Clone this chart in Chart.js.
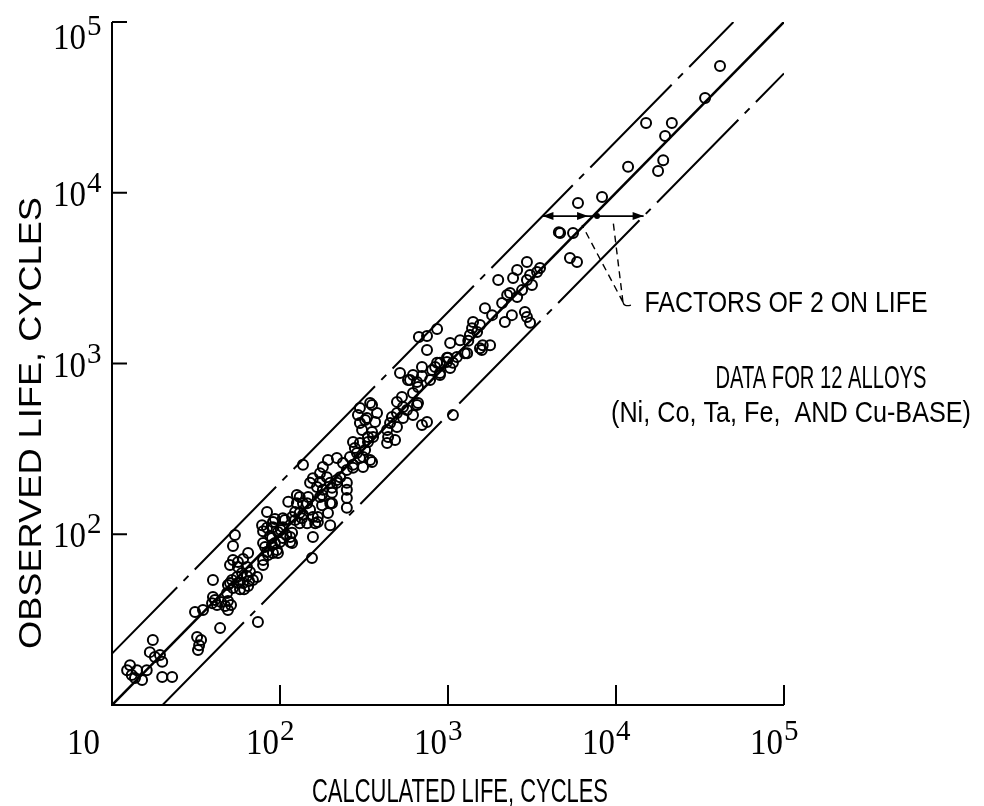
<!DOCTYPE html>
<html>
<head>
<meta charset="utf-8">
<script src="https://cdn.jsdelivr.net/npm/chart.js@4.4.1/dist/chart.umd.min.js"></script>
<style>
  html, body { margin: 0; padding: 0; background: #fff; }
  #c { display: block; }
</style>
</head>
<body>
<canvas id="c" width="984" height="806" style="width:984px;height:806px"></canvas>
<script>
// calculated life vs observed life, cycles
const lifePairs = [
  // lowest group
  [12.8,17.1],[12.3,16.0],[13.1,15.0],[14.1,16.0],[15.1,14.0],[16.1,16.0],[17.5,24.0],[16.8,20.4],
  [18.0,19.1],[19.3,19.6],[19.9,17.9],[19.9,14.6],[22.8,14.6],[13.7,14.4],[32.1,25.0],[33.0,22.4],
  [33.9,24.0],[32.5,21.0],[31.2,35.1],
  // 30 - 80 cycles
  [34.8,36.0],[39.4,39.5],[41.0,41.2],[42.2,38.5],[44.5,40.1],[47.1,38.0],[49.0,40.6],[49.0,36.0],
  [51.1,38.5],[39.9,42.9],[39.9,54.0],[49.0,50.5],[48.4,45.3],[52.5,48.4],[51.8,54.0],[55.5,56.2],
  [50.4,51.8],[56.2,51.8],[57.8,47.7],[60.3,51.8],[61.1,47.7],[64.6,49.8],[65.4,53.2],[63.6,56.9],
  [66.3,60.1],[69.0,54.0],[73.0,56.2],[59.4,59.3],[63.6,64.3],[56.2,64.3],[50.4,66.1],[52.5,70.6],
  [56.2,68.7],[60.3,71.6],[64.6,77.7],[52.5,85.3],[53.9,99],[44.0,28.2],[73.9,30.6],
  // 80 - 200 cycles
  [78.2,113],[79.3,104],[83.7,109],[83.7,135],[81.5,84.1],[79.3,88.9],[79.3,70.6],[79.3,66.1],
  [83.7,78.7],[84.9,75.5],[87.2,97.8],[89.6,86.5],[89.6,95.1],[90.8,118],[90.8,110],[90.8,77.7],
  [93.3,123],[93.3,88.9],[95.9,80.9],[97.2,103],[97.2,77.7],[100,90.2],[101,106],[104,95.1],
  [104,110],[107,121],[109,99.1],[115,96.4],[115,90.2],[118,102],[118,88.9],[123,121],[123,135],
  [112,155],[126,170],[126,152],[131,165],[131,133],[131,116],[137,152],[137,130],[145,152],
  [145,116],[147,165],[151,139],[151,200],[157,96.4],[157,126],[157,213],[162,116],[166,189],
  [168,118],[168,126],[173,228],[173,202],[173,165],[178,170],[178,148],[180,182],[180,248],
  [190,216],[193,133],[193,272],[199,152],[199,113],[199,200],[204,175],[204,152],[137,255],
  [155,72.6],[118,126],[104,124],[135,124],
  // 200 - 400 cycles
  [218,280],[218,208],[218,200],[228,216],[237,261],[250,238],[250,200],[250,182],[250,163],
  [250,143],[261,283],[272,347],[272,255],[272,245],[279,320],[287,299],[291,499],[299,548],
  [299,448],[299,342],[299,280],[308,408],[312,283],[312,248],[321,467],[321,311],[329,480],
  [334,371],[334,347],[344,587],[344,272],[353,571],[353,397],[353,265],[358,371],[368,454],
  [378,513],[204,187],
  // 400 - 2000 cycles
  [434,408],[434,342],[440,371],[452,448],[464,486],[484,356],[497,596],[497,513],[497,425],
  [518,879],[532,637],[540,556],[540,480],[570,534],[578,800],[594,800],[619,857],[619,671],
  [619,499],[654,779],[654,571],[663,728],[663,587],[700,955],[700,845],[700,437],[750,454],
  [750,1200],[671,1430],[750,1450],[861,1590],[782,800],[804,916],[838,955],[861,1010],
  [896,1010],[896,857],[986,1020],[986,1080],[1030,1320],[1070,1010],[1070,499],[1130,1090],
  [1180,1370],[1300,1150],[1320,1360],[1350,1470],[1410,1750],[1490,1530],[1550,1230],
  [896,879],[1030,942],[1000,1080],[1260,1150],[1390,1610],[1550,1680],[1610,1280],
  [1780,1280],[1590,1200],
  // 2000 - 10000 cycles
  [1660,2110],[1830,1920],[1990,3080],[2100,2260],[2180,1750],[2250,2520],[2340,2590],
  [2400,1920],[2440,3170],[2580,3530],[2580,2450],[2760,2690],[2870,2000],[2950,3930],
  [2950,3080],[2950,1870],[3080,3300],[3080,1730],[3160,2880],[3390,3430],[3530,3630],
  [4650,5810],[4570,5880],[5550,5810],[5320,4150],[5860,3930],[5940,8710],[8260,9440],
  // above 10000 cycles
  [11800,14200],[15100,25600],[17800,13400],[19100,15500],[19600,21500],[21500,25600],
  [33900,35900],[41600,55200]
];
const calculatedLife = lifePairs.map(p => p[0]);
const observedLife = lifePairs.map(p => p[1]);

// reference lines: exact agreement and factors of 2
const equalX = [10, 100000];
const equalY = [10, 100000];
const upperX = [10, 50000];
const upperY = [20, 100000];
const lowerX = [20, 100000];
const lowerY = [10, 50000];

// "factors of 2" arrows and leaders
const arrowLevel = 7300;
const arrowX = [3650, 7300, 14600];
const leaderFrom = [11000, 2290];
const leaderTo = [[6280, 6470], [9590, 6920]];

const tickValues = [10, 100, 1000, 10000, 100000];

const SANS = '"Liberation Sans", Arial, sans-serif';
const SERIF = '"Liberation Serif", "Times New Roman", serif';
const DASH = [116, 9, 7, 9];

function fitText(ctx, text, cx, cy, w, size, rot) {
  ctx.save();
  ctx.translate(cx, cy);
  if (rot) ctx.rotate(rot);
  ctx.font = size + 'px ' + SANS;
  const nat = ctx.measureText(text).width;
  ctx.scale(w / nat, 1);
  ctx.textAlign = 'center';
  ctx.textBaseline = 'alphabetic';
  ctx.fillText(text, 0, size * 0.36);
  ctx.restore();
}

function power(ctx, exp, baseRight, baseline) {
  ctx.save();
  ctx.font = '35px ' + SERIF;
  ctx.textBaseline = 'alphabetic';
  ctx.textAlign = 'left';
  const w = ctx.measureText('10').width;
  ctx.save();
  ctx.translate(baseRight - 33, baseline);
  ctx.scale(33 / w, 1);
  ctx.fillText('10', 0, 0);
  ctx.restore();
  if (exp) {
    ctx.font = '29px ' + SERIF;
    ctx.fillText(exp, baseRight + 1, baseline - 14);
  }
  ctx.restore();
}

function arrowHead(ctx, x, y, dir) {
  ctx.beginPath();
  ctx.moveTo(x, y);
  ctx.lineTo(x - dir * 11, y - 4);
  ctx.lineTo(x - dir * 11, y + 4);
  ctx.closePath();
  ctx.fill();
}

const decor = {
  id: 'decor',
  afterDatasetsDraw(chart) {
    const { ctx, chartArea: a, scales: { x, y } } = chart;
    ctx.save();
    ctx.strokeStyle = '#000';
    ctx.fillStyle = '#000';
    ctx.lineWidth = 2;
    ctx.lineCap = 'butt';

    // axes
    ctx.beginPath();
    ctx.moveTo(a.left, a.top);
    ctx.lineTo(a.left, a.bottom);
    ctx.lineTo(a.right, a.bottom);
    ctx.stroke();

    // inward ticks
    ctx.beginPath();
    tickValues.slice(1).forEach(v => {
      const px = x.getPixelForValue(v);
      ctx.moveTo(px, a.bottom);
      ctx.lineTo(px, a.bottom - 20);
      const py = y.getPixelForValue(v);
      ctx.moveTo(a.left, py);
      ctx.lineTo(a.left + 15, py);
    });
    ctx.stroke();

    // tick labels
    tickValues.forEach(v => {
      const e = Math.round(Math.log10(v));
      const px = x.getPixelForValue(v);
      if (e === 1) power(ctx, '', px - 12, a.bottom + 49);
      else power(ctx, String(e), px - 1, a.bottom + 49);
      if (e > 1) {
        const py = y.getPixelForValue(v);
        power(ctx, String(e), a.left - 26, Math.max(py + 13, a.top + 27));
      }
    });

    // factor-of-2 arrows
    const ay = y.getPixelForValue(arrowLevel);
    const x0 = x.getPixelForValue(arrowX[0]);
    const x1 = x.getPixelForValue(arrowX[1]);
    const x2 = x.getPixelForValue(arrowX[2]);
    ctx.lineWidth = 1.6;
    ctx.beginPath();
    ctx.moveTo(x0, ay);
    ctx.lineTo(x2, ay);
    ctx.stroke();
    arrowHead(ctx, x0, ay, -1);
    arrowHead(ctx, x2, ay, 1);
    arrowHead(ctx, x1 - 5, ay, 1);
    ctx.beginPath();
    ctx.arc(x1 + 4, ay, 3, 0, Math.PI * 2);
    ctx.fill();

    // dashed leaders
    const lx = x.getPixelForValue(leaderFrom[0]);
    const ly = y.getPixelForValue(leaderFrom[1]);
    ctx.lineWidth = 1.4;
    ctx.setLineDash([7, 5]);
    ctx.beginPath();
    leaderTo.forEach(t => {
      ctx.moveTo(lx, ly);
      ctx.lineTo(x.getPixelForValue(t[0]), y.getPixelForValue(t[1]));
    });
    ctx.stroke();
    ctx.setLineDash([]);
    ctx.beginPath();
    ctx.moveTo(lx, ly);
    ctx.quadraticCurveTo(lx + 1, ly + 5, lx + 8, ly + 3);
    ctx.stroke();

    // annotations
    fitText(ctx, 'FACTORS OF 2 ON LIFE', 786, 302, 283, 29);
    fitText(ctx, 'DATA FOR 12 ALLOYS', 821, 377, 211, 31);
    fitText(ctx, '(Ni, Co, Ta, Fe,  AND Cu-BASE)', 791, 411, 360, 30);

    // axis titles
    fitText(ctx, 'CALCULATED LIFE, CYCLES', 460, 790, 296, 33);
    fitText(ctx, 'OBSERVED LIFE, CYCLES', 29, 423, 452, 32, -Math.PI / 2);

    ctx.restore();
  }
};

const toXY = (xs, ys) => xs.map((v, i) => ({ x: v, y: ys[i] }));

new Chart(document.getElementById('c'), {
  type: 'scatter',
  data: {
    datasets: [
      {
        data: toXY(calculatedLife, observedLife),
        pointRadius: 5,
        pointBorderWidth: 2,
        pointBorderColor: '#000',
        pointBackgroundColor: 'rgba(0,0,0,0)',
        order: 0
      },
      {
        data: toXY(equalX, equalY),
        showLine: true, borderColor: '#000', borderWidth: 2.6, pointRadius: 0, order: 1
      },
      {
        data: toXY(upperX, upperY),
        showLine: true, borderColor: '#000', borderWidth: 2, borderDash: DASH,
        borderDashOffset: 23, pointRadius: 0, order: 1
      },
      {
        data: toXY(lowerX, lowerY),
        showLine: true, borderColor: '#000', borderWidth: 2, borderDash: DASH,
        borderDashOffset: 0, pointRadius: 0, order: 1
      }
    ]
  },
  options: {
    responsive: false,
    animation: false,
    devicePixelRatio: 1,
    layout: { padding: { left: 112, top: 22, right: 200, bottom: 101 } },
    plugins: { legend: { display: false }, tooltip: { enabled: false } },
    scales: {
      x: { type: 'logarithmic', min: 10, max: 100000, display: false },
      y: { type: 'logarithmic', min: 10, max: 100000, display: false }
    }
  },
  plugins: [decor]
});
</script>
</body>
</html>
